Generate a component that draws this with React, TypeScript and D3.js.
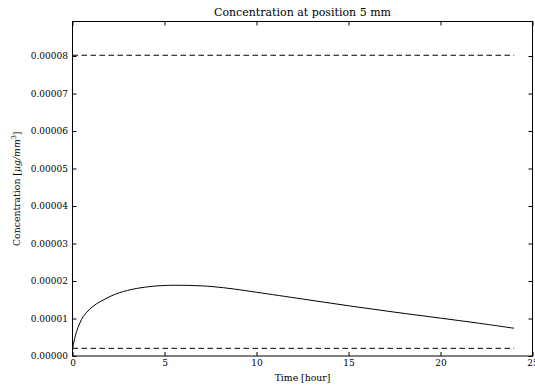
import React, { useRef, useEffect } from 'react';
import * as d3 from 'd3';

// time in hours, concentration in ug/mm^3
const times = [0, 0.05, 0.12, 0.22, 0.4, 0.58, 0.94, 1.3, 1.66, 2.1, 2.57, 3.0, 3.47, 4.37, 5.28, 5.82, 6.5, 7.63, 8.8, 10, 12.5, 15, 17.5, 20, 22, 24];
const concentration = [0.15e-5, 0.32e-5, 0.47e-5, 0.65e-5, 0.88e-5, 1.05e-5, 1.25e-5, 1.39e-5, 1.49e-5, 1.6e-5, 1.69e-5, 1.75e-5, 1.8e-5, 1.86e-5, 1.885e-5, 1.885e-5, 1.88e-5, 1.85e-5, 1.785e-5, 1.7e-5, 1.52e-5, 1.34e-5, 1.17e-5, 1.01e-5, 0.88e-5, 0.74e-5];

// dashed reference levels
const upperLevel = 8.02e-5;
const lowerLevel = 0.205e-5;
const levelRange = [0, 24];

const xTicks = [0, 5, 10, 15, 20, 25];
const yTicks = [0, 1e-5, 2e-5, 3e-5, 4e-5, 5e-5, 6e-5, 7e-5, 8e-5];
const xDomain = [0, 25];
const yDomain = [0, 8.92e-5];

const App: React.FC = () => {
  const svgRef = useRef<SVGSVGElement | null>(null);

  useEffect(() => {
    const svg = d3.select(svgRef.current);
    svg.selectAll('*').remove();
    const width = 535;
    const height = 388;
    const margin = { top: 21.5, right: 2.5, bottom: 32, left: 72.5 };
    const font = 'DejaVu Serif, serif';

    const x = d3.scaleLinear().domain(xDomain).range([margin.left, width - margin.right]);
    const y = d3.scaleLinear().domain(yDomain).range([height - margin.bottom, margin.top]);

    // ticks point inward, classic matplotlib style
    const bottom = svg.append('g')
      .attr('transform', `translate(0,${height - margin.bottom})`)
      .call(d3.axisBottom(x).tickValues(xTicks).tickSize(-4).tickPadding(4).tickFormat(d3.format('d')));
    const top = svg.append('g')
      .attr('transform', `translate(0,${margin.top})`)
      .call(d3.axisTop(x).tickValues(xTicks).tickSize(-4).tickFormat(() => ''));
    const left = svg.append('g')
      .attr('transform', `translate(${margin.left},0)`)
      .call(d3.axisLeft(y).tickValues(yTicks).tickSize(-4).tickPadding(4.5).tickFormat(d3.format('.5f')));
    const right = svg.append('g')
      .attr('transform', `translate(${width - margin.right},0)`)
      .call(d3.axisRight(y).tickValues(yTicks).tickSize(-4).tickFormat(() => ''));

    [bottom, top, left, right].forEach(g => {
      g.select('.domain').remove();
      g.selectAll('line').attr('stroke', '#000');
      g.selectAll('text').attr('fill', '#000').style('font-family', font).style('font-size', '9px');
    });

    // frame
    svg.append('rect')
      .attr('x', margin.left)
      .attr('y', margin.top)
      .attr('width', width - margin.left - margin.right)
      .attr('height', height - margin.top - margin.bottom)
      .attr('fill', 'none')
      .attr('stroke', '#000')
      .attr('stroke-width', 1);

    [upperLevel, lowerLevel].forEach(v => {
      svg.append('line')
        .attr('x1', x(levelRange[0]))
        .attr('x2', x(levelRange[1]))
        .attr('y1', y(v))
        .attr('y2', y(v))
        .attr('stroke', '#000')
        .attr('stroke-width', 1)
        .attr('stroke-dasharray', '5.5,3.5');
    });

    const line = d3.line<number>()
      .x((_, i) => x(times[i]))
      .y(d => y(d))
      .curve(d3.curveCatmullRom);

    svg.append('path')
      .datum(concentration)
      .attr('d', line)
      .attr('fill', 'none')
      .attr('stroke', '#000')
      .attr('stroke-width', 1);

    // title
    svg.append('text')
      .attr('x', (margin.left + width - margin.right) / 2)
      .attr('y', 16)
      .attr('text-anchor', 'middle')
      .style('font-family', font)
      .style('font-size', '11px')
      .text('Concentration at position 5 mm');

    // x label
    svg.append('text')
      .attr('x', (margin.left + width - margin.right) / 2)
      .attr('y', 381)
      .attr('text-anchor', 'middle')
      .style('font-family', font)
      .style('font-size', '9.3px')
      .text('Time [hour]');

    // y label
    const yl = svg.append('text')
      .attr('transform', `translate(20,${(margin.top + height - margin.bottom) / 2}) rotate(-90)`)
      .attr('text-anchor', 'middle')
      .style('font-family', font)
      .style('font-size', '9.3px');
    yl.append('tspan').text('Concentration [');
    yl.append('tspan').style('font-style', 'italic').text('μg/mm');
    yl.append('tspan').attr('dy', -4).style('font-size', '6.5px').text('3');
    yl.append('tspan').attr('dy', 4).text(']');
  }, []);

  return <svg ref={svgRef} width={535} height={388} style={{ position: 'absolute', left: 0, top: 0, background: '#fff' }}></svg>;
};

export default App;
